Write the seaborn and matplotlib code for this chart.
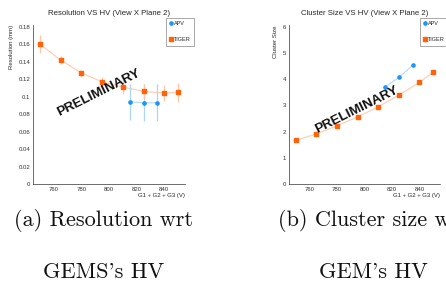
import matplotlib

matplotlib.use("Agg")
import matplotlib.pyplot as plt
import numpy as np
import pandas as pd
import seaborn as sns
from matplotlib.ticker import FormatStrFormatter, MultipleLocator


# high voltage points (G1 + G2 + G3, volts)
HV_TIGER = [750, 765, 780, 795, 810, 825, 840, 850]
HV_APV = [815, 825, 835]

# resolution (mm)
RES_TIGER = [0.160, 0.142, 0.127, 0.117, 0.111, 0.106, 0.104, 0.105]
RES_TIGER_ERR = [0.010, 0.005, 0.004, 0.006, 0.008, 0.009, 0.0095, 0.011]
RES_APV = [0.094, 0.093, 0.093]
RES_APV_ERR = [0.021, 0.021, 0.021]

# cluster size (strips)
CL_TIGER = [1.66, 1.91, 2.22, 2.56, 2.94, 3.39, 3.87, 4.26]
CL_TIGER_ERR = [0.03, 0.03, 0.03, 0.03, 0.03, 0.03, 0.03, 0.03]
CL_APV = [3.70, 4.06, 4.52]
CL_APV_ERR = [0.03, 0.03, 0.03]

ORANGE = "#ff6208"
BLUE = "#1d95f5"
ROOT_FONT = "Liberation Sans"


def draw_panel(ax, tiger, tiger_err, apv, apv_err):
    df_t = pd.DataFrame({"hv": HV_TIGER, "val": tiger})
    df_a = pd.DataFrame({"hv": HV_APV, "val": apv})
    sns.lineplot(data=df_t, x="hv", y="val", ax=ax, color=ORANGE, alpha=0.3, lw=0.9)
    sns.lineplot(data=df_a, x="hv", y="val", ax=ax, color=BLUE, alpha=0.3, lw=0.9)

    ax.errorbar(HV_APV, apv, yerr=apv_err, fmt="o", ms=2.3, color=BLUE,
                ecolor="#a9d6fb", elinewidth=0.9, capsize=0, label="APV")
    ax.errorbar(HV_TIGER, tiger, yerr=tiger_err, fmt="s", ms=2.4, color=ORANGE,
                ecolor="#ffc6a4", elinewidth=0.9, capsize=0, label="TIGER")

    ax.set_xlim(745, 855)
    ax.xaxis.set_major_locator(MultipleLocator(20))
    ax.xaxis.set_minor_locator(MultipleLocator(4))
    ax.tick_params(which="both", direction="in", labelsize=4.3, pad=2,
                   width=0.5, colors="#333333")
    ax.tick_params(which="major", length=3)
    ax.tick_params(which="minor", length=1.5)
    for lab in ax.get_xticklabels() + ax.get_yticklabels():
        lab.set_fontfamily(ROOT_FONT)
    ax.spines[["top", "right"]].set_visible(False)
    for s in ("left", "bottom"):
        ax.spines[s].set_linewidth(0.5)
        ax.spines[s].set_color("#333333")
    ax.set_xlabel("G1 + G2 + G3 (V)", fontsize=4.3, family=ROOT_FONT, ha="right")
    ax.xaxis.set_label_coords(1.0, -0.055)


sns.set_theme(style="white")
fig = plt.figure(figsize=(4.46, 2.84), dpi=100)
fig.patch.set_facecolor("white")

ax1 = fig.add_axes([33 / 446, 1 - 184 / 284, 152 / 446, 159 / 284])
ax2 = fig.add_axes([289 / 446, 1 - 184 / 284, 151 / 446, 159 / 284])

draw_panel(ax1, RES_TIGER, RES_TIGER_ERR, RES_APV, RES_APV_ERR)
ax1.set_ylim(0, 0.182)
ax1.yaxis.set_major_locator(MultipleLocator(0.02))
ax1.yaxis.set_minor_locator(MultipleLocator(0.004))
ax1.yaxis.set_major_formatter(FormatStrFormatter("%g"))
ax1.set_ylabel("Resolution (mm)", fontsize=4.3, family=ROOT_FONT, ha="right")
ax1.yaxis.set_label_coords(-0.125, 1.0)
ax1.set_title("Resolution VS HV (View X Plane 2)", fontsize=5.6, family=ROOT_FONT, pad=7)

draw_panel(ax2, CL_TIGER, CL_TIGER_ERR, CL_APV, CL_APV_ERR)
ax2.set_ylim(0, 6.06)
ax2.yaxis.set_major_locator(MultipleLocator(1))
ax2.yaxis.set_minor_locator(MultipleLocator(0.2))
ax2.set_ylabel("Cluster Size", fontsize=4.3, family=ROOT_FONT, ha="right")
ax2.yaxis.set_label_coords(-0.07, 1.0)
ax2.set_title("Cluster Size VS HV (View X Plane 2)", fontsize=5.6, family=ROOT_FONT, pad=7)

for ax, lx in ((ax1, 166), (ax2, 420)):
    handles, labels = ax.get_legend_handles_labels()
    leg = fig.legend(handles, labels, loc="upper left",
                     bbox_to_anchor=(lx / 446, 1 - 18 / 284),
                     prop={"family": ROOT_FONT, "size": 4.0},
                     handlelength=0.5, handletextpad=0.3, labelspacing=2.0,
                     borderpad=0.6, borderaxespad=0, fancybox=False, framealpha=1,
                     edgecolor="#9a9a9a")
    leg.get_frame().set_linewidth(0.6)

for cx, cy, rot in ((99, 93, 26.5), (357, 110, 26.5)):
    fig.text(cx / 446, 1 - cy / 284, "PRELIMINARY", fontsize=9.6, fontweight="bold",
             family=ROOT_FONT, color="#111111", rotation=rot,
             ha="center", va="center", rotation_mode="anchor")

caption = {"family": "cmr10", "size": 16, "color": "#111111", "ha": "center", "va": "center"}
fig.text(104 / 446, 1 - 220 / 284, "(a) Resolution wrt", **caption)
fig.text(104 / 446, 1 - 272 / 284, "GEMS's HV", **caption)
fig.text(373 / 446, 1 - 220 / 284, "(b) Cluster size wrt", **caption)
fig.text(373 / 446, 1 - 272 / 284, "GEM's HV", **caption)

fig.savefig("out.png", dpi=100, facecolor="white")
